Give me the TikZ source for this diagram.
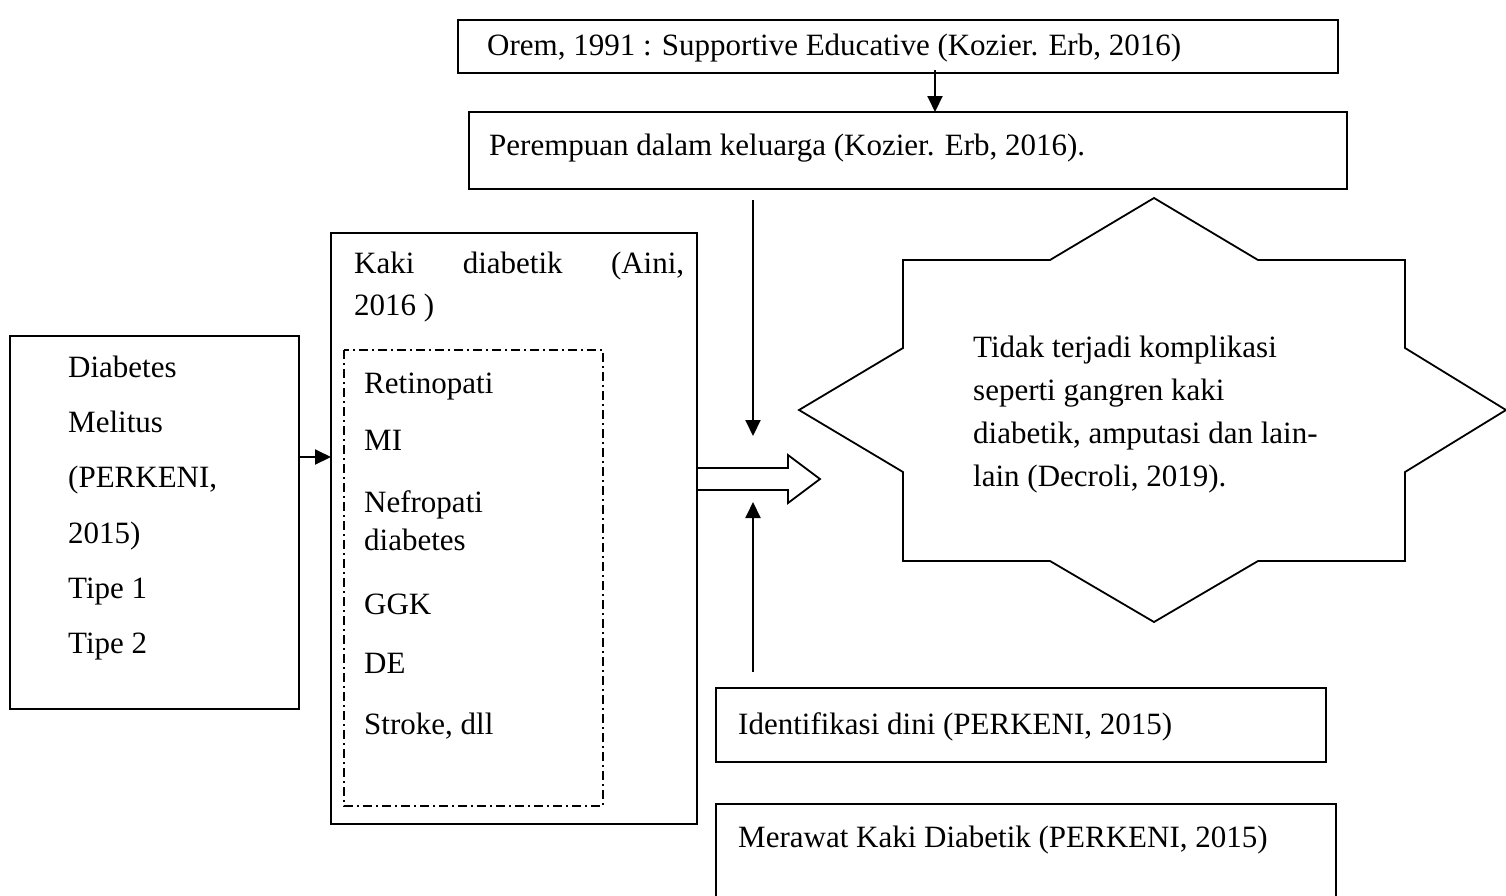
\documentclass[tikz,border=0pt]{standalone}
\usepackage{fontspec}
\setmainfont{Liberation Serif}
\usetikzlibrary{arrows.meta}
\begin{document}
\begin{tikzpicture}[x=1pt,y=-1pt,
  frame/.style={draw, line width=2pt},
  dashdot/.style={draw, line width=1.6pt, dash pattern=on 9pt off 4pt on 2pt off 4pt},
  txt/.style={anchor=base west, inner sep=0pt, font=\fontsize{31}{40}\selectfont},
  arr/.style={line width=2pt, -{Triangle[length=16pt,width=15pt]}},
]
\useasboundingbox (0,0) rectangle (1506,895);

% boxes
\path[frame] (458,20) rectangle (1338,73);
\coordinate (oremS) at (935,73);
\path[frame] (469,112) rectangle (1347,189);
\coordinate (perN) at (935,112);
\path[frame] (10,336) rectangle (299,709);
\coordinate (dmE) at (299,457);
\path[frame] (331,233) rectangle (697,824);
\coordinate (kakiW) at (331,457);
\path[dashdot] (344,350) rectangle (603,806);
\path[frame] (716,688) rectangle (1326,762);
\path[frame] (716,804) rectangle (1336,910);

% star
\path[frame, line width=1.8pt] (799,410) -- (903,348) -- (903,260) -- (1050,260) -- (1154,198)
  -- (1258,260) -- (1405,260) -- (1405,348) -- (1506,410) -- (1405,472) -- (1405,561)
  -- (1258,561) -- (1154,622) -- (1050,561) -- (903,561) -- (903,472) -- cycle;

% block arrow
\path[frame, line width=1.8pt] (697,468) -- (788,468) -- (788,455) -- (820,479) -- (788,503)
  -- (788,490) -- (697,490);

% texts
\node[txt] (orem) at (487,55) {Orem, 1991 : Supportive Educative (Kozier. Erb, 2016)};
\node[txt] (per) at (489,155) {Perempuan dalam keluarga (Kozier. Erb, 2016).};

\node[txt] (dm1) at (68,377) {Diabetes};
\node[txt] (dm2) at (68,432) {Melitus};
\node[txt] (dm3) at (68,487) {(PERKENI,};
\node[txt] (dm4) at (68,543) {2015)};
\node[txt] (dm5) at (68,598) {Tipe 1};
\node[txt] (dm6) at (68,653) {Tipe 2};

\node[txt] (kaki1) at (354,273) {\hbox to 330pt{Kaki\hfill diabetik\hfill (Aini,}};
\node[txt] (kaki2) at (354,315) {2016 )};

\node[txt] (k1) at (364,393) {Retinopati};
\node[txt] (k2) at (364,450) {MI};
\node[txt] (k3) at (364,512) {Nefropati};
\node[txt] (k4) at (364,550) {diabetes};
\node[txt] (k5) at (364,614) {GGK};
\node[txt] (k6) at (364,673) {DE};
\node[txt] (k7) at (364,734) {Stroke, dll};

\node[txt] (s1) at (973,357) {Tidak terjadi komplikasi};
\node[txt] (s2) at (973,400) {seperti gangren kaki};
\node[txt] (s3) at (973,443) {diabetik, amputasi dan lain-};
\node[txt] (s4) at (973,486) {lain (Decroli, 2019).};

\node[txt] (idn) at (738,734) {Identifikasi dini (PERKENI, 2015)};
\node[txt] (mrw) at (738,847) {Merawat Kaki Diabetik (PERKENI, 2015)};

% connectors
\draw[arr] ([yshift=3pt]oremS) -- (perN);
\draw[arr] (dmE) -- (kakiW);
\coordinate (dTop) at (753,200);
\coordinate (dTip) at (753,436);
\coordinate (uBot) at (753,672);
\coordinate (uTip) at (753,502);
\draw[arr] (dTop) -- (dTip);
\draw[arr] (uBot) -- (uTip);
\end{tikzpicture}
\end{document}
